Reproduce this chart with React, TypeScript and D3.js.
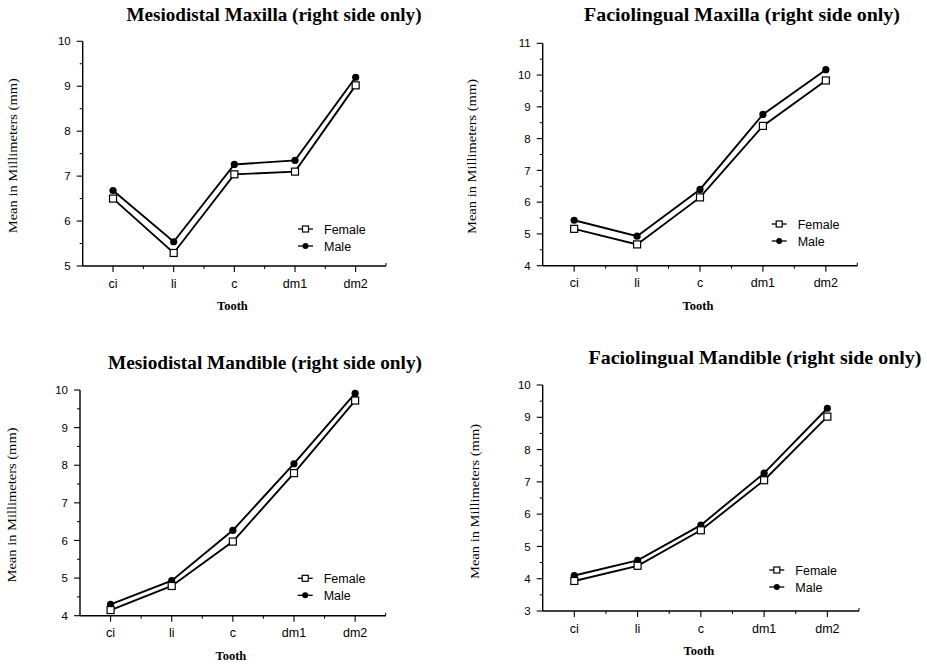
import React from 'react';
import * as d3 from 'd3';

// tooth categories along the x axis
const teeth = ['ci', 'li', 'c', 'dm1', 'dm2'];

// mean sizes (mm)
const mdMaxillaFemale = [6.5, 5.29, 7.04, 7.1, 9.02];
const mdMaxillaMale = [6.68, 5.54, 7.26, 7.35, 9.2];
const flMaxillaFemale = [5.16, 4.67, 6.15, 8.4, 9.83];
const flMaxillaMale = [5.43, 4.93, 6.4, 8.76, 10.17];
const mdMandibleFemale = [4.15, 4.79, 5.97, 7.79, 9.72];
const mdMandibleMale = [4.3, 4.93, 6.27, 8.04, 9.91];
const flMandibleFemale = [3.93, 4.4, 5.5, 7.05, 9.02];
const flMandibleMale = [4.1, 4.57, 5.66, 7.27, 9.28];

const titles = [
  'Mesiodistal Maxilla (right side only)',
  'Faciolingual Maxilla (right side only)',
  'Mesiodistal Mandible (right side only)',
  'Faciolingual Mandible (right side only)',
];
const yDomains = [[5, 10], [4, 11], [4, 10], [3, 10]];
const femaleSeries = [mdMaxillaFemale, flMaxillaFemale, mdMandibleFemale, flMandibleFemale];
const maleSeries = [mdMaxillaMale, flMaxillaMale, mdMandibleMale, flMandibleMale];
const legendLabels = ['Female', 'Male'];
const xTitle = 'Tooth';
const yTitle = 'Mean in Millimeters (mm)';

// where each panel sits on the page
const layouts = [
  { left: 82.7, right: 386, top: 41.3, bottom: 266, titleX: 274, titleY: 20.5, titleW: 295, yLabX: 17, yLabY: 155.7, legX: 298, legY: 229 },
  { left: 542.7, right: 857.3, top: 43.3, bottom: 265.7, titleX: 742, titleY: 20.5, titleW: 316, yLabX: 476, yLabY: 156.5, legX: 771.7, legY: 224 },
  { left: 80, right: 385.7, top: 390, bottom: 615.7, titleX: 265, titleY: 368.5, titleW: 314, yLabX: 15.5, yLabY: 505, legX: 297.7, legY: 578.3 },
  { left: 542.7, right: 859, top: 385, bottom: 611, titleX: 755, titleY: 363.5, titleW: 333, yLabX: 479, yLabY: 501.5, legX: 769.3, legY: 570 },
];

const serif = '"Liberation Serif", "Times New Roman", serif';
const sans = '"Liberation Sans", Arial, sans-serif';

const Square = ({ x, y, s }: { x: number; y: number; s: number }) => (
  <rect x={x - s / 2} y={y - s / 2} width={s} height={s} fill="white" stroke="black" strokeWidth={1.2} />
);

const Panel = ({ i }: { i: number }) => {
  const L = layouts[i];
  const [y0, y1] = yDomains[i];
  const x = d3.scalePoint<string>().domain(teeth).range([L.left, L.right]).padding(0.5);
  const y = d3.scaleLinear().domain([y0, y1]).range([L.bottom, L.top]);
  const line = d3.line<number>()
    .x((_, k) => x(teeth[k]) as number)
    .y(d => y(d));
  const majors = d3.range(y0, y1 + 0.001, 1);
  const minors = d3.range(y0 + 0.5, y1, 1);
  const step = x.step();
  const xMinors = d3.range(1, teeth.length).map(k => L.left + k * step);
  const female = femaleSeries[i];
  const male = maleSeries[i];
  const xMid = (L.left + L.right) / 2 - 2;

  return (
    <g>
      <text
        x={L.titleX}
        y={L.titleY}
        textAnchor="middle"
        fontFamily={serif}
        fontWeight="bold"
        fontSize={19.5}
        textLength={L.titleW}
        lengthAdjust="spacingAndGlyphs"
      >
        {titles[i]}
      </text>

      {/* axes */}
      <line x1={L.left} x2={L.left} y1={L.top} y2={L.bottom} stroke="black" strokeWidth={1.4} />
      <line x1={L.left} x2={L.right} y1={L.bottom} y2={L.bottom} stroke="black" strokeWidth={1.4} />
      <line x1={L.right} x2={L.right} y1={L.bottom} y2={L.bottom - 3} stroke="black" strokeWidth={1} />
      {majors.map(v => (
        <g key={'y' + v}>
          <line x1={L.left - 6} x2={L.left} y1={y(v)} y2={y(v)} stroke="black" strokeWidth={1.1} />
          <text x={L.left - 12} y={y(v)} dy="0.36em" textAnchor="end" fontFamily={sans} fontSize={11.5}>
            {v}
          </text>
        </g>
      ))}
      {minors.map(v => (
        <line key={'ym' + v} x1={L.left - 3} x2={L.left} y1={y(v)} y2={y(v)} stroke="black" strokeWidth={1} />
      ))}
      {teeth.map(t => (
        <g key={'x' + t}>
          <line x1={x(t)} x2={x(t)} y1={L.bottom} y2={L.bottom + 6} stroke="black" strokeWidth={1.1} />
          <text x={x(t)} y={L.bottom + 21.5} textAnchor="middle" fontFamily={sans} fontSize={12.5}>
            {t}
          </text>
        </g>
      ))}
      {xMinors.map(v => (
        <line key={'xm' + v} x1={v} x2={v} y1={L.bottom} y2={L.bottom + 3} stroke="black" strokeWidth={1} />
      ))}

      <text x={xMid} y={L.bottom + 44} textAnchor="middle" fontFamily={serif} fontWeight="bold" fontSize={12.5}>
        {xTitle}
      </text>
      <text
        transform={`translate(${L.yLabX},${L.yLabY}) rotate(-90)`}
        textAnchor="middle"
        fontFamily={serif}
        fontSize={12}
        textLength={155}
        lengthAdjust="spacingAndGlyphs"
      >
        {yTitle}
      </text>

      {/* series */}
      <path d={line(male) || ''} fill="none" stroke="black" strokeWidth={1.9} />
      <path d={line(female) || ''} fill="none" stroke="black" strokeWidth={1.9} />
      {male.map((v, k) => (
        <circle key={'m' + k} cx={x(teeth[k])} cy={y(v)} r={3.6} fill="black" />
      ))}
      {female.map((v, k) => (
        <Square key={'f' + k} x={x(teeth[k]) as number} y={y(v)} s={7} />
      ))}

      {/* legend */}
      {legendLabels.map((lab, k) => {
        const ly = L.legY + k * 17;
        return (
          <g key={lab}>
            <line x1={L.legX} x2={L.legX + 15} y1={ly} y2={ly} stroke="black" strokeWidth={1.3} />
            {k === 0 ? (
              <Square x={L.legX + 7.5} y={ly} s={6} />
            ) : (
              <circle cx={L.legX + 7.5} cy={ly} r={3} fill="black" />
            )}
            <text x={L.legX + 26} y={ly} dy="0.36em" fontFamily={sans} fontSize={12.5}>
              {lab}
            </text>
          </g>
        );
      })}
    </g>
  );
};

export default function App() {
  return (
    <svg
      width={927}
      height={668}
      style={{ position: 'absolute', left: 0, top: 0, background: 'white' }}
    >
      <rect width={927} height={668} fill="white" />
      {layouts.map((_, i) => (
        <Panel key={i} i={i} />
      ))}
    </svg>
  );
}
